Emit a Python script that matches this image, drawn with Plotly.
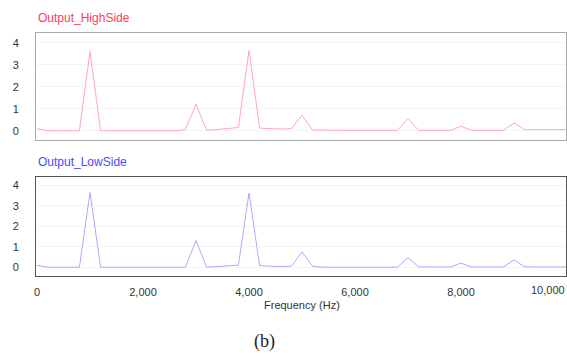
import plotly.graph_objects as go

freq = [i * 200 for i in range(51)]

high_side = [0.1, 0, 0, 0, 0, 3.6, 0, 0, 0, 0,
             0, 0, 0, 0, 0.05, 1.2, 0.02, 0.05, 0.1, 0.15,
             3.65, 0.12, 0.1, 0.08, 0.1, 0.7, 0.03, 0.02, 0.02, 0.02,
             0.02, 0.02, 0.02, 0.02, 0.02, 0.55, 0.02, 0.02, 0.02, 0.02,
             0.2, 0.02, 0.02, 0.02, 0.02, 0.35, 0.05, 0.05, 0.05, 0.05,
             0.05]

low_side = [0.1, 0, 0, 0, 0, 3.65, 0, 0, 0, 0,
            0, 0, 0, 0, 0, 1.3, 0, 0.03, 0.06, 0.1,
            3.63, 0.08, 0.05, 0.03, 0.05, 0.75, 0.05, 0, 0, 0,
            0, 0, 0, 0, 0, 0.47, 0.02, 0.01, 0.01, 0.01,
            0.2, 0.01, 0.01, 0.01, 0.01, 0.36, 0.02, 0.01, 0.01, 0.01,
            0.01]

x_ticks = [0, 2000, 4000, 6000, 8000]
x_tick_text = ["0", "2,000", "4,000", "6,000", "8,000"]
y_ticks = [0, 1, 2, 3, 4]

FONT = "Liberation Sans, Arial, sans-serif"
W, H = 567, 356

fig = go.Figure()
fig.add_trace(go.Scatter(x=freq, y=high_side, mode="lines",
                         line=dict(color="#ffa8b6", width=1),
                         xaxis="x", yaxis="y", showlegend=False))
fig.add_trace(go.Scatter(x=freq, y=low_side, mode="lines",
                         line=dict(color="#aaaaff", width=1),
                         xaxis="x2", yaxis="y2", showlegend=False))

xr = [-19, 9981]
common_x = dict(range=xr, showgrid=False, zeroline=False, showline=True,
                mirror=True, ticks="", tickvals=x_ticks, ticktext=x_tick_text,
                tickfont=dict(family=FONT, size=11, color="#333"))
common_y = dict(showgrid=True, gridcolor="#f4f4f4", zeroline=False, showline=True,
                mirror=True, ticks="", tickvals=y_ticks,
                tickfont=dict(family=FONT, size=11, color="#333"),
                ticklabelstandoff=14)

fig.update_layout(
    width=W, height=H,
    margin=dict(l=36, r=1, t=0, b=0),
    plot_bgcolor="white", paper_bgcolor="white",
    xaxis=dict(common_x, domain=[0, 1], anchor="y", showticklabels=False,
               linecolor="#aaaaaa"),
    yaxis=dict(common_y, domain=[1 - 140 / H, 1 - 33 / H], range=[-0.42, 4.44],
               anchor="x", linecolor="#aaaaaa"),
    xaxis2=dict(common_x, domain=[0, 1], anchor="y2", showticklabels=True,
                linecolor="#555555", ticklabelstandoff=6),
    yaxis2=dict(common_y, domain=[1 - 276 / H, 1 - 177 / H], range=[-0.43, 4.41],
                anchor="x2", linecolor="#555555"),
    annotations=[
        dict(text="Output_HighSide", xref="paper", yref="paper",
             x=0.0, y=1 - 18 / H, xanchor="left", yanchor="middle", showarrow=False,
             font=dict(family=FONT, size=12, color="#ff3b5c")),
        dict(text="Output_LowSide", xref="paper", yref="paper",
             x=0.0, y=1 - 162 / H, xanchor="left", yanchor="middle", showarrow=False,
             font=dict(family=FONT, size=12, color="#4a4aff")),
        dict(text="10,000", xref="paper", yref="paper",
             x=1.0, y=1 - 290 / H, xanchor="right", yanchor="middle", showarrow=False,
             xshift=1, font=dict(family=FONT, size=11, color="#333")),
        dict(text="Frequency (Hz)", xref="paper", yref="paper",
             x=(302 - 36) / 530, y=1 - 305 / H, xanchor="center", yanchor="middle",
             showarrow=False, font=dict(family=FONT, size=11, color="#333")),
        dict(text="(b)", xref="paper", yref="paper",
             x=(264 - 36) / 530, y=1 - 341 / H, xanchor="center", yanchor="middle",
             showarrow=False, font=dict(family="Liberation Serif, serif", size=18, color="#222")),
    ],
)

fig.write_html("out.html")
